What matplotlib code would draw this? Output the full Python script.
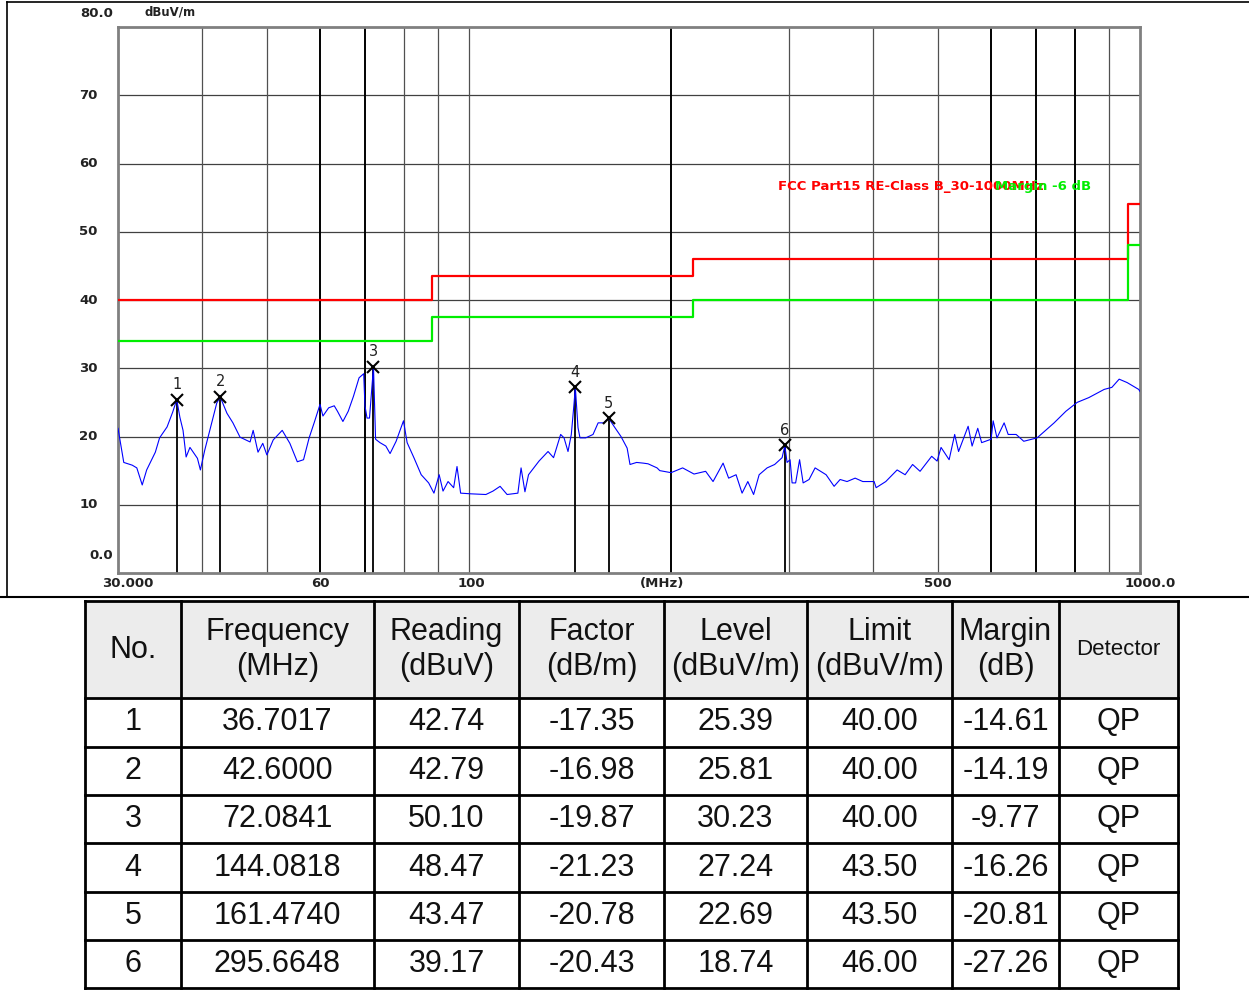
import matplotlib
matplotlib.use('Agg')
import matplotlib.pyplot as plt
from matplotlib.patches import Rectangle

# trace (MHz, dBuV/m)
freq = [30.0, 30.6, 31.5, 32.0, 32.6, 33.1, 34.1, 34.6, 35.5, 36.2, 36.7, 37.1, 37.5, 37.9,
        38.4, 39.4, 39.8, 40.4, 41.1, 42.1, 42.6, 43.6, 44.5, 45.6, 47.2, 47.7, 48.5, 49.3,
        50.0, 51.1, 52.7, 54.1, 55.5, 56.7, 57.8, 58.8, 60.0, 60.6, 61.8, 63.0, 63.7, 64.9,
        66.1, 67.3, 68.6, 69.7, 70.0, 70.5, 71.1, 72.08, 72.6, 73.7, 75.2, 76.3, 77.9, 79.9,
        80.9, 82.8, 84.9, 87.1, 88.7, 90.3, 91.5, 93.1, 94.9, 96.0, 97.2, 100.7, 106.0, 108.6,
        111.3, 114.0, 118.3, 119.6, 121.2, 122.7, 127.2, 131.2, 133.7, 137.0, 138.6, 140.5,
        142.1, 143.4, 144.08, 145.4, 146.4, 149.3, 153.1, 155.8, 158.8, 161.47, 164.5, 168.5,
        172.1, 173.8, 177.8, 181.8, 184.9, 190.7, 192.5, 200.1, 208.2, 216.5, 225.3, 231.1,
        239.2, 243.8, 250.1, 255.3, 260.4, 265.6, 270.7, 278.2, 285.5, 292.9, 295.66, 297.9,
        301.0, 303.1, 306.8, 311.0, 314.8, 321.3, 328.0, 334.2, 340.6, 350.1, 357.4, 366.0,
        376.3, 386.3, 401.6, 404.4, 418.0, 434.6, 446.7, 458.3, 470.2, 489.3, 498.5, 505.3,
        519.5, 529.5, 536.6, 554.5, 562.1, 573.1, 580.8, 600.0, 604.2, 612.2, 627.4, 636.2,
        653.8, 671.1, 702.6, 721.5, 744.8, 775.5, 806.1, 839.0, 884.3, 908.0, 931.0, 956.9,
        995.5, 1000.0]
level = [21.2, 16.2, 15.8, 15.4, 12.9, 15.1, 17.7, 19.8, 21.4, 23.6, 25.4, 22.8, 20.9, 17.0,
         18.4, 16.8, 15.1, 18.0, 20.9, 24.9, 25.8, 23.4, 22.0, 19.9, 19.2, 20.9, 17.7, 19.0,
         17.3, 19.5, 20.9, 19.0, 16.3, 16.6, 19.8, 22.0, 24.7, 23.0, 24.2, 24.5, 23.7, 22.2,
         23.7, 25.9, 28.6, 29.2, 24.5, 22.7, 22.7, 30.2, 19.6, 19.1, 18.6, 17.5, 19.3, 22.3,
         19.1, 16.9, 14.4, 13.2, 11.7, 14.4, 12.0, 13.4, 12.5, 15.6, 11.7, 11.6, 11.5, 12.0,
         12.7, 11.5, 11.7, 15.4, 11.9, 14.4, 16.4, 17.8, 16.9, 20.3, 19.8, 17.8,
         20.3, 24.7, 27.2, 21.3, 19.8, 19.8, 20.3, 22.0, 22.0, 22.7, 21.5, 20.0,
         18.3, 15.9, 16.2, 16.1, 16.0, 15.4, 15.0, 14.7, 15.4, 14.5, 14.9, 13.4,
         16.1, 13.9, 14.4, 11.7, 13.4, 11.5, 14.4, 15.4, 15.9, 16.9, 18.7, 16.2,
         16.6, 13.2, 13.2, 16.6, 13.2, 13.7, 15.4, 14.9, 14.4, 12.7, 13.7, 13.4,
         13.9, 13.4, 13.4, 12.5, 13.4, 15.1, 14.4, 15.9, 14.9, 17.1, 16.4, 18.4,
         16.6, 20.3, 17.8, 21.5, 18.6, 21.2, 19.1, 19.6, 22.3, 19.8, 22.0, 20.3,
         20.3, 19.3, 19.8, 20.8, 22.0, 23.7, 25.0, 25.7, 26.9, 27.2, 28.4, 27.9,
         26.9, 26.6]

# FCC Part15 class B limit and -6 dB margin line
lim_f = [30, 88, 88, 216, 216, 960, 960, 1000]
lim_qp = [40, 40, 43.5, 43.5, 46, 46, 54, 54]
lim_margin = [34, 34, 37.5, 37.5, 40, 40, 48, 48]

# markers / table
mk_no = ['1', '2', '3', '4', '5', '6']
mk_freq = [36.7017, 42.6000, 72.0841, 144.0818, 161.4740, 295.6648]
mk_reading = [42.74, 42.79, 50.10, 48.47, 43.47, 39.17]
mk_factor = [-17.35, -16.98, -19.87, -21.23, -20.78, -20.43]
mk_level = [25.39, 25.81, 30.23, 27.24, 22.69, 18.74]
mk_limit = [40.00, 40.00, 40.00, 43.50, 43.50, 46.00]
mk_margin = [-14.61, -14.19, -9.77, -16.26, -20.81, -27.26]
mk_det = ['QP'] * 6

headers = ['No.', 'Frequency\n(MHz)', 'Reading\n(dBuV)', 'Factor\n(dB/m)', 'Level\n(dBuV/m)',
           'Limit\n(dBuV/m)', 'Margin\n(dB)', 'Detector']

fig = plt.figure(figsize=(12.49, 9.93), dpi=100)
ax = fig.add_axes([118 / 1249, 420 / 993, 1022 / 1249, 546 / 993])
ax.set_xscale('log')
ax.set_xlim(30, 1000)
ax.set_ylim(0, 80)

# grid
for y in range(10, 80, 10):
    ax.axhline(y, color='#404040', lw=0.9, zorder=1)
thick = [60, 70, 200, 600, 700, 800]
for f in [40, 50, 60, 70, 80, 90, 100, 200, 300, 400, 500, 600, 700, 800, 900]:
    if f in thick:
        ax.axvline(f, color='black', lw=1.4, zorder=1)
    else:
        ax.axvline(f, color='#505050', lw=0.9, zorder=1)

ax.plot(lim_f, lim_qp, color='#ff0000', lw=1.6, zorder=3)
ax.plot(lim_f, lim_margin, color='#00ee00', lw=1.6, zorder=3)
ax.plot(freq, level, color='#0000ff', lw=0.8, zorder=4)

# markers
ax.vlines(mk_freq, 0, mk_level, color='black', lw=1.3, zorder=2)
ax.plot(mk_freq, mk_level, 'x', color='black', ms=8, mew=1.5, zorder=5)
for n, f, l in zip(mk_no, mk_freq, mk_level):
    ax.text(f, l + 2.2, n, ha='center', va='center', fontsize=10.5, color='#222222', zorder=5)

ax.text(0.646, 0.707, 'FCC Part15 RE-Class B_30-1000MHz', transform=ax.transAxes,
        color='#ff0000', fontsize=9.5, fontweight='bold', va='center', ha='left')
ax.text(0.858, 0.707, 'Margin -6 dB', transform=ax.transAxes,
        color='#00ee00', fontsize=9.5, fontweight='bold', va='center', ha='left')

for s in ax.spines.values():
    s.set_color('#808080')
    s.set_linewidth(2)
ax.set_xticks([])
ax.set_yticks([])
ax.xaxis.set_minor_locator(matplotlib.ticker.NullLocator())

# axis labels as in the analyser printout
lab = dict(fontsize=9.5, fontweight='bold', color='#222222')
yt = ax.get_yaxis_transform()
for v in [70, 60, 50, 40, 30, 20, 10]:
    ax.text(-0.02, v, str(v), transform=yt, ha='right', va='center', **lab)
ax.text(-0.005, 82, '80.0', transform=yt, ha='right', va='center', clip_on=False, **lab)
ax.text(-0.005, 2.5, '0.0', transform=yt, ha='right', va='center', **lab)
ax.text(0.026, 1.027, 'dBuV/m', transform=ax.transAxes, ha='left', va='center', fontsize=8.5,
        fontweight='bold', color='#222222')
xt = ax.get_xaxis_transform()
for v, s in [(31.0, '30.000'), (60, '60'), (100.8, '100'), (194, '(MHz)'), (500, '500'),
             (1035, '1000.0')]:
    ax.text(v, -0.019, s, transform=xt, ha='center', va='center', clip_on=False, **lab)

# page overlay: frame and table
pg = fig.add_axes([0, 0, 1, 1], facecolor='none')
pg.set_xlim(0, 1249)
pg.set_ylim(993, 0)
pg.axis('off')
pg.plot([7, 1249], [2, 2], color='black', lw=1.2)
pg.plot([7, 7], [2, 597], color='black', lw=1.2)
pg.plot([0, 1249], [597, 597], color='black', lw=1.5)

col_x = [85, 181, 374, 519, 664, 807, 952, 1059, 1178]
row_y = [601, 698, 746.5, 795, 843, 892, 940, 988]
pg.add_patch(Rectangle((col_x[0], row_y[0]), col_x[-1] - col_x[0], row_y[1] - row_y[0],
                       facecolor='#ececec', edgecolor='none'))
for x in col_x:
    pg.plot([x, x], [row_y[0], row_y[-1]], color='black', lw=2)
for y in row_y:
    pg.plot([col_x[0], col_x[-1]], [y, y], color='black', lw=2)

tf = dict(family='Liberation Sans', color='#111111')
for i, h in enumerate(headers):
    cx = (col_x[i] + col_x[i + 1]) / 2
    cy = (row_y[0] + row_y[1]) / 2
    pg.text(cx, cy, h, ha='center', va='center', fontsize=16 if h == 'Detector' else 22,
            linespacing=1.2, **tf)

rows = list(zip(mk_no, ['%.4f' % v for v in mk_freq], ['%.2f' % v for v in mk_reading],
                ['%.2f' % v for v in mk_factor], ['%.2f' % v for v in mk_level],
                ['%.2f' % v for v in mk_limit], ['%.2f' % v for v in mk_margin], mk_det))
for r, row in enumerate(rows):
    cy = (row_y[r + 1] + row_y[r + 2]) / 2
    for i, s in enumerate(row):
        cx = (col_x[i] + col_x[i + 1]) / 2
        pg.text(cx, cy, s, ha='center', va='center', fontsize=22, **tf)

fig.savefig('out.png', dpi=100)
